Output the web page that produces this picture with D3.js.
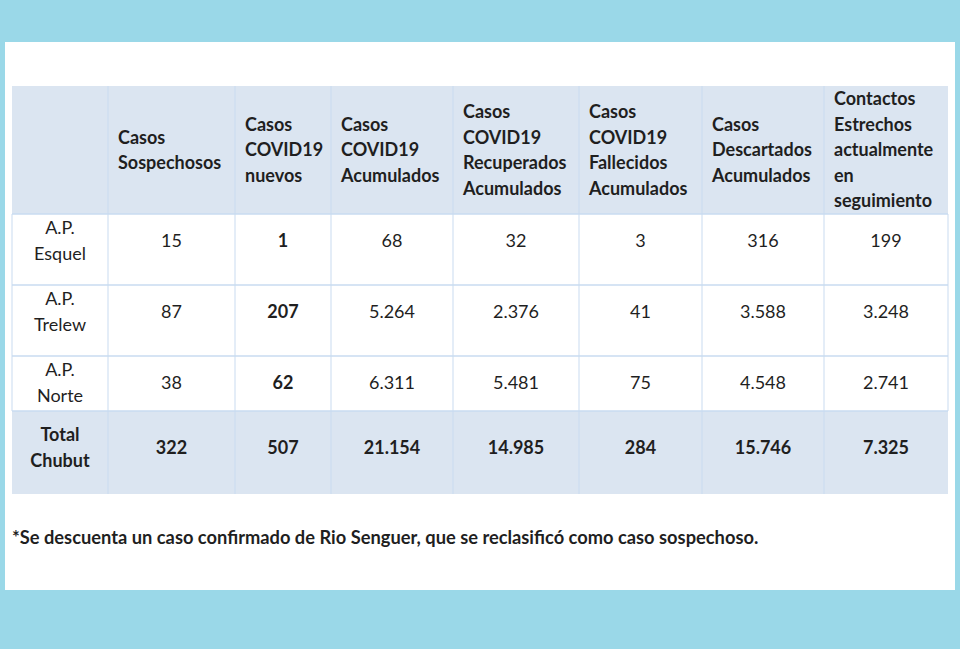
<!DOCTYPE html>
<html><head><meta charset="utf-8">
<script src="https://cdn.jsdelivr.net/npm/d3@7"></script>
<style>
html,body{margin:0;padding:0;background:#9ad8e8;}
svg{display:block;}
text{font-family:Lato,"Open Sans",sans-serif;fill:#1f1f1f;}
</style></head>
<body>
<script>
// ---- data ----
const headers = [
  [],
  ["Casos","Sospechosos"],
  ["Casos","COVID19","nuevos"],
  ["Casos","COVID19","Acumulados"],
  ["Casos","COVID19","Recuperados","Acumulados"],
  ["Casos","COVID19","Fallecidos","Acumulados"],
  ["Casos","Descartados","Acumulados"],
  ["Contactos","Estrechos","actualmente","en","seguimiento"]
];
const rowLabels = [["A.P.","Esquel"],["A.P.","Trelew"],["A.P.","Norte"],["Total","Chubut"]];
const esquel = ["15","1","68","32","3","316","199"];
const trelew = ["87","207","5.264","2.376","41","3.588","3.248"];
const norte  = ["38","62","6.311","5.481","75","4.548","2.741"];
const total  = ["322","507","21.154","14.985","284","15.746","7.325"];
const rows = [esquel, trelew, norte, total];
const footnote = "*Se descuenta un caso confirmado de Rio Senguer, que se reclasificó como caso sospechoso.";

// ---- layout ----
const W = 960, H = 649;
const colEdges = [12,108,235,331,453,579,702,824,948];
const rowEdges = [86,214,285,356,411,494];
const fillBlue = "#dbe5f1", lineBlue = "#c9dbf0";
const lh = 25.5;

const svg = d3.select("body").append("svg").attr("width",W).attr("height",H);
svg.append("rect").attr("x",0).attr("y",0).attr("width",W).attr("height",H).attr("fill","#9ad8e8");
svg.append("rect").attr("x",5).attr("y",42).attr("width",950).attr("height",548).attr("fill","#ffffff");

const x = i => colEdges[i];
const y = i => rowEdges[i];

// row backgrounds
const shaded = [0,4];
svg.selectAll("rect.row").data(shaded).join("rect").attr("class","row")
  .attr("x",x(0)).attr("width",x(8)-x(0))
  .attr("y",d=>y(d)).attr("height",d=>y(d+1)-y(d)).attr("fill",fillBlue);

// grid lines
svg.selectAll("line.v").data(d3.range(1,8)).join("line").attr("class","v")
  .attr("x1",d=>x(d)).attr("x2",d=>x(d)).attr("y1",y(0)).attr("y2",y(5))
  .attr("stroke",lineBlue).attr("stroke-width",1);
svg.selectAll("line.h").data(d3.range(0,6)).join("line").attr("class","h")
  .attr("x1",x(0)).attr("x2",x(8)).attr("y1",d=>y(d)).attr("y2",d=>y(d))
  .attr("stroke",lineBlue).attr("stroke-width",d=>(d===0||d===5)?0:1.5);
[0,8].forEach(c=>{
  svg.append("line").attr("x1",x(c)).attr("x2",x(c)).attr("y1",y(1)).attr("y2",y(4))
    .attr("stroke",lineBlue).attr("stroke-width",1);
});

// headers
const fs = 18;
headers.forEach((lines,ci)=>{
  if(!lines.length) return;
  const cy = (y(0)+y(1))/2;
  const t = svg.append("text").attr("font-size",fs).attr("font-weight","bold")
    .attr("x",x(ci)+10);
  lines.forEach((l,k)=>{
    t.append("tspan").attr("x",x(ci)+10)
      .attr("y",cy + (k-(lines.length-1)/2)*lh).attr("dy","0.35em").text(l);
  });
});

// body
rows.forEach((vals,ri)=>{
  const top = y(ri+1);
  const lab = rowLabels[ri];
  const isTotal = ri===3;
  const l1 = isTotal ? top+24 : top+14;
  const cx0 = (x(0)+x(1))/2;
  const t = svg.append("text").attr("font-size",fs).attr("text-anchor","middle")
    .attr("font-weight",isTotal?"bold":"normal");
  lab.forEach((l,k)=>{
    t.append("tspan").attr("x",cx0).attr("y",l1+k*lh).attr("dy","0.35em").text(l);
  });
  const vy = l1 + lh/2;
  svg.selectAll(null).data(vals).join("text")
    .attr("font-size",fs).attr("text-anchor","middle")
    .attr("font-weight",(d,i)=>(isTotal||i===1)?"bold":"normal")
    .attr("x",(d,i)=>(x(i+1)+x(i+2))/2).attr("y",vy).attr("dy","0.35em").text(d=>d);
});

svg.append("text").attr("x",12).attr("y",538).attr("dy","0.35em")
  .attr("font-size",18.3).attr("font-weight","bold").text(footnote);
</script>
</body></html>
